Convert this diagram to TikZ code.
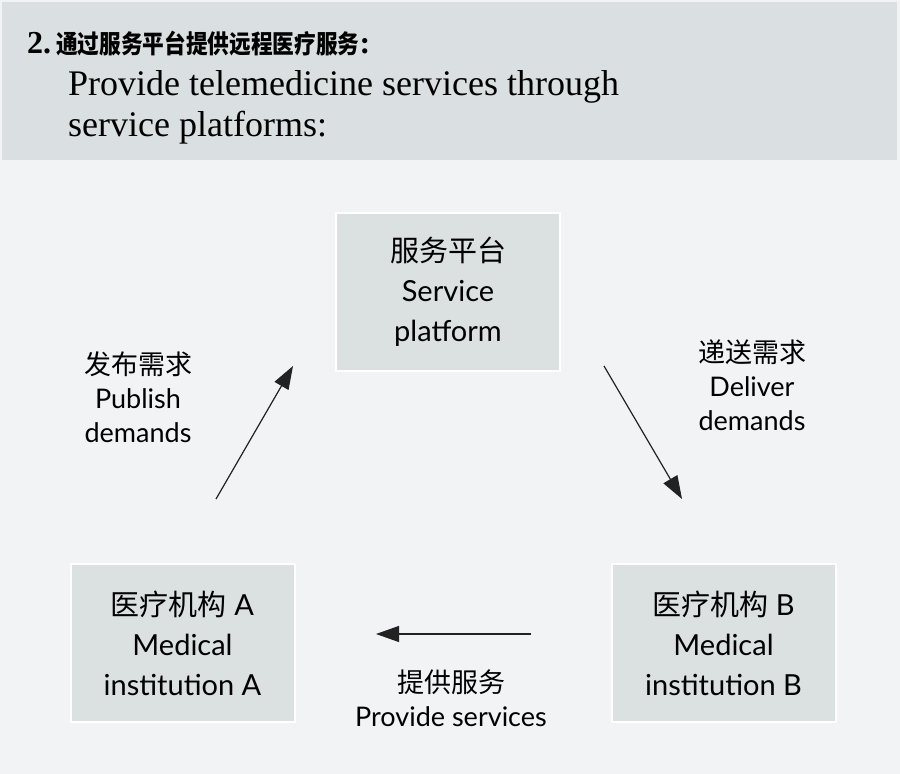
\documentclass[tikz,border=0pt]{standalone}
\usepackage{fontspec}
\usepackage{graphicx}
\usetikzlibrary{arrows.meta}
\setmainfont{Liberation Serif}
\newfontfamily\hdr{Liberation Serif}
\newfontfamily\sfbody{Lato}
\newfontfamily\cjk{Noto Sans CJK SC}
\definecolor{bgc}{HTML}{F2F3F5}
\definecolor{hdrc}{HTML}{DAE0E1}
\definecolor{boxc}{HTML}{DBE0E1}
\definecolor{arrc}{HTML}{222222}
\tikzset{
  box/.style={draw=white, line width=2pt, fill=boxc, minimum width=224pt, minimum height=158pt,
    inner sep=0pt, align=center, font=\sfbody\fontsize{29}{40}\selectfont},
  lbl/.style={inner sep=0pt, align=center, font=\sfbody\fontsize{27}{34}\selectfont},
  arr/.style={draw=arrc, line width=1.2pt, -{Triangle[length=23pt,width=16pt]}},
  hdrtxt/.style={anchor=base west, inner sep=0pt}
}
\begin{document}
\begin{tikzpicture}[x=1pt,y=-1pt]
\useasboundingbox (0,0) rectangle (900,774);
\fill[bgc] (0,0) rectangle (900,774);
\fill[hdrc] (2,2) rectangle (897,160);
\node[hdrtxt] (t1) at (27,53) {\fontsize{32}{40}\selectfont\bfseries 2.\hspace{5pt}\scalebox{0.85}[1]{\cjk\fontsize{25.5}{30}\selectfont\bfseries 通过服务平台提供远程医疗服务}:};
\node[hdrtxt] (t2) at (68,95) {\hdr\fontsize{36}{41}\selectfont Provide telemedicine services through};
\node[hdrtxt] (t3) at (68,136) {\hdr\fontsize{36}{41}\selectfont service platforms:};

\node[box] (plat) at (448,292) {{\cjk 服务平台}\\Service\\platform};
\node[box] (insta) at (182.5,643) {{\cjk 医疗机构} A\\Medical\\institution A};
\node[box] (instb) at (723.5,643) {{\cjk 医疗机构} B\\Medical\\institution B};

\node[lbl] (lpub) at (138,397) {{\cjk 发布需求}\\Publish\\demands};
\node[lbl] (ldel) at (752,385) {{\cjk 递送需求}\\Deliver\\demands};
\node[lbl] (lprov) at (451,698) {{\cjk 提供服务}\\Provide services};

\coordinate (a1) at (216,499);
\coordinate (a2) at (293,366);
\coordinate (b1) at (604,366);
\coordinate (b2) at (682,499);
\coordinate (c1) at (531,634);
\coordinate (c2) at (376,634);
\draw[arr] (a1) -- (a2);
\draw[arr] (b1) -- (b2);
\draw[arr] (c1) -- (c2);
\end{tikzpicture}
\end{document}
